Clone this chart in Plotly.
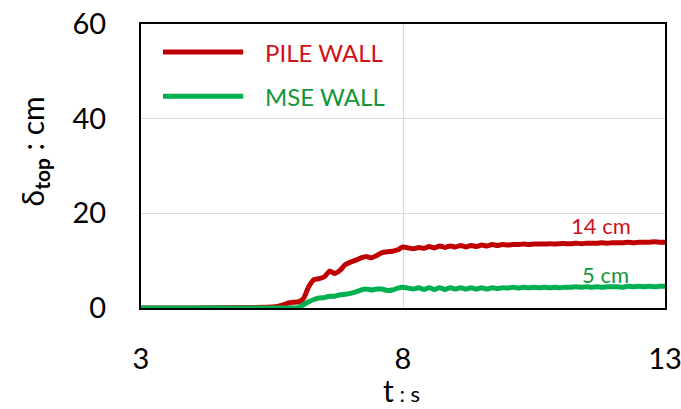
import plotly.graph_objects as go

# time (s)
t = [3.0, 4.0, 5.0,
     5.5, 5.6, 5.7, 5.8, 5.9, 6.0, 6.1, 6.2, 6.3, 6.4, 6.5, 6.6, 6.7, 6.8, 6.9,
     7.0, 7.1, 7.2, 7.3, 7.4, 7.5, 7.6, 7.7, 7.8, 7.9,
     8.0, 8.1, 8.2, 8.3, 8.4, 8.5, 8.6, 8.7, 8.8, 8.9,
     9.0, 9.1, 9.2, 9.3, 9.4, 9.5, 9.6, 9.7, 9.8, 9.9,
     10.0, 10.1, 10.2, 10.3, 10.4, 10.5, 10.6, 10.7, 10.8, 10.9,
     11.0, 11.1, 11.2, 11.3, 11.4, 11.5, 11.6, 11.7, 11.8, 11.9,
     12.0, 12.1, 12.2, 12.3, 12.4, 12.5, 12.6, 12.7, 12.8, 12.9,
     13.0]

# top displacement (cm)
pile_wall = [0.0, 0.0, 0.1,
             0.2, 0.3, 0.6, 1.0, 1.2, 1.3, 2.0, 4.5, 6.0, 6.2, 6.6, 7.8, 7.3, 8.0, 9.2,
             9.7, 10.1, 10.6, 10.9, 10.6, 11.1, 11.7, 11.9, 12.0, 12.3,
             12.9, 12.7, 12.5, 12.8, 12.6, 13.0, 12.7, 13.1, 12.8, 13.1,
             12.9, 13.2, 12.9, 13.2, 13.0, 13.3, 13.1, 13.4, 13.2, 13.4,
             13.3, 13.4, 13.4, 13.5, 13.4, 13.5, 13.5, 13.5, 13.6, 13.5,
             13.6, 13.6, 13.6, 13.7, 13.6, 13.7, 13.7, 13.7, 13.8, 13.7,
             13.8, 13.8, 13.8, 13.9, 13.8, 13.9, 13.9, 13.9, 14.0, 13.9,
             13.9]

mse_wall = [0.0, 0.0, 0.0,
            0.0, 0.0, 0.0, 0.0, 0.0, 0.1, 0.7, 1.3, 1.8, 2.1, 2.2, 2.5, 2.5, 2.8, 2.9,
            3.1, 3.4, 3.8, 4.0, 3.8, 4.0, 4.0, 3.7, 3.8, 4.2,
            4.4, 4.2, 4.0, 4.3, 3.9, 4.3, 3.9, 4.3, 3.9, 4.3,
            4.0, 4.3, 4.0, 4.3, 4.0, 4.3, 4.0, 4.3, 4.1, 4.3,
            4.2, 4.4, 4.2, 4.4, 4.3, 4.4, 4.3, 4.4, 4.3, 4.4,
            4.3, 4.4, 4.4, 4.5, 4.4, 4.5, 4.4, 4.5, 4.4, 4.5,
            4.5, 4.5, 4.4, 4.6, 4.5, 4.6, 4.5, 4.6, 4.5, 4.6,
            4.6]

series_names = ["PILE WALL", "MSE WALL"]
end_labels = ["14 cm", "5 cm"]
x_ticks = [3, 8, 13]
y_ticks = [0, 20, 40, 60]

RED = "#C00000"
GREEN = "#00B050"
RED_TXT = "#D0101A"
GREEN_TXT = "#13963C"
FONT = "Lato, 'Open Sans', sans-serif"

fig = go.Figure()
fig.add_trace(go.Scatter(x=t, y=pile_wall, mode="lines", name=series_names[0],
                         line=dict(color=RED, width=5, shape="spline", smoothing=0.6),
                         showlegend=False))
fig.add_trace(go.Scatter(x=t, y=mse_wall, mode="lines", name=series_names[1],
                         line=dict(color=GREEN, width=5, shape="spline", smoothing=0.6),
                         showlegend=False))

# legend drawn manually (long sample lines)
legend_rows = [(0.901, RED, RED_TXT, series_names[0]), (0.746, GREEN, GREEN_TXT, series_names[1])]
for yy, lc, tc, nm in legend_rows:
    fig.add_shape(type="line", xref="paper", yref="paper", x0=0.042, x1=0.195, y0=yy, y1=yy,
                  line=dict(color=lc, width=5))
    fig.add_annotation(xref="paper", yref="paper", x=0.233, y=yy, text=nm, showarrow=False,
                       xanchor="left", yanchor="middle", font=dict(family=FONT, size=24, color=tc))

# end labels
fig.add_annotation(x=11.77, y=17.5, text=end_labels[0], showarrow=False,
                   xanchor="center", yanchor="middle", font=dict(family=FONT, size=22, color=RED_TXT))
fig.add_annotation(x=11.86, y=7.0, text=end_labels[1], showarrow=False,
                   xanchor="center", yanchor="middle", font=dict(family=FONT, size=22, color=GREEN_TXT))

# axis titles
fig.add_annotation(xref="paper", yref="paper", x=-0.205, y=0.55, textangle=-90,
                   text="δ<sub><b>top</b></sub> : cm", showarrow=False,
                   xanchor="center", yanchor="middle", font=dict(family=FONT, size=30, color="black"))
fig.add_annotation(xref="paper", yref="paper", x=0.497, y=-0.29,
                   text="<span style='font-size:30px'>t</span> : s", showarrow=False,
                   xanchor="center", yanchor="middle", font=dict(family=FONT, size=22, color="black"))

fig.update_layout(
    width=681, height=409,
    margin=dict(l=141, r=16, t=24, b=101, autoexpand=False),
    paper_bgcolor="white", plot_bgcolor="white",
    font=dict(family=FONT, color="black"),
)
fig.update_xaxes(range=[3, 13], tickvals=x_ticks, ticktext=[str(v) for v in x_ticks],
                 showgrid=True, gridcolor="#D9D9D9", gridwidth=1, zeroline=False,
                 showline=True, linecolor="black", linewidth=2, mirror=True, automargin=False,
                 ticks="", ticklabelstandoff=24, ticklabeloverflow="allow",
                 tickfont=dict(family=FONT, size=29, color="black"))
fig.update_yaxes(range=[0, 60], tickvals=y_ticks,
                 showgrid=True, gridcolor="#D9D9D9", gridwidth=1, zeroline=False,
                 showline=True, linecolor="black", linewidth=2, mirror=True, automargin=False,
                 ticks="", ticklabelstandoff=27, ticklabeloverflow="allow",
                 tickfont=dict(family=FONT, size=29, color="black"))

fig.write_html("out.html")
